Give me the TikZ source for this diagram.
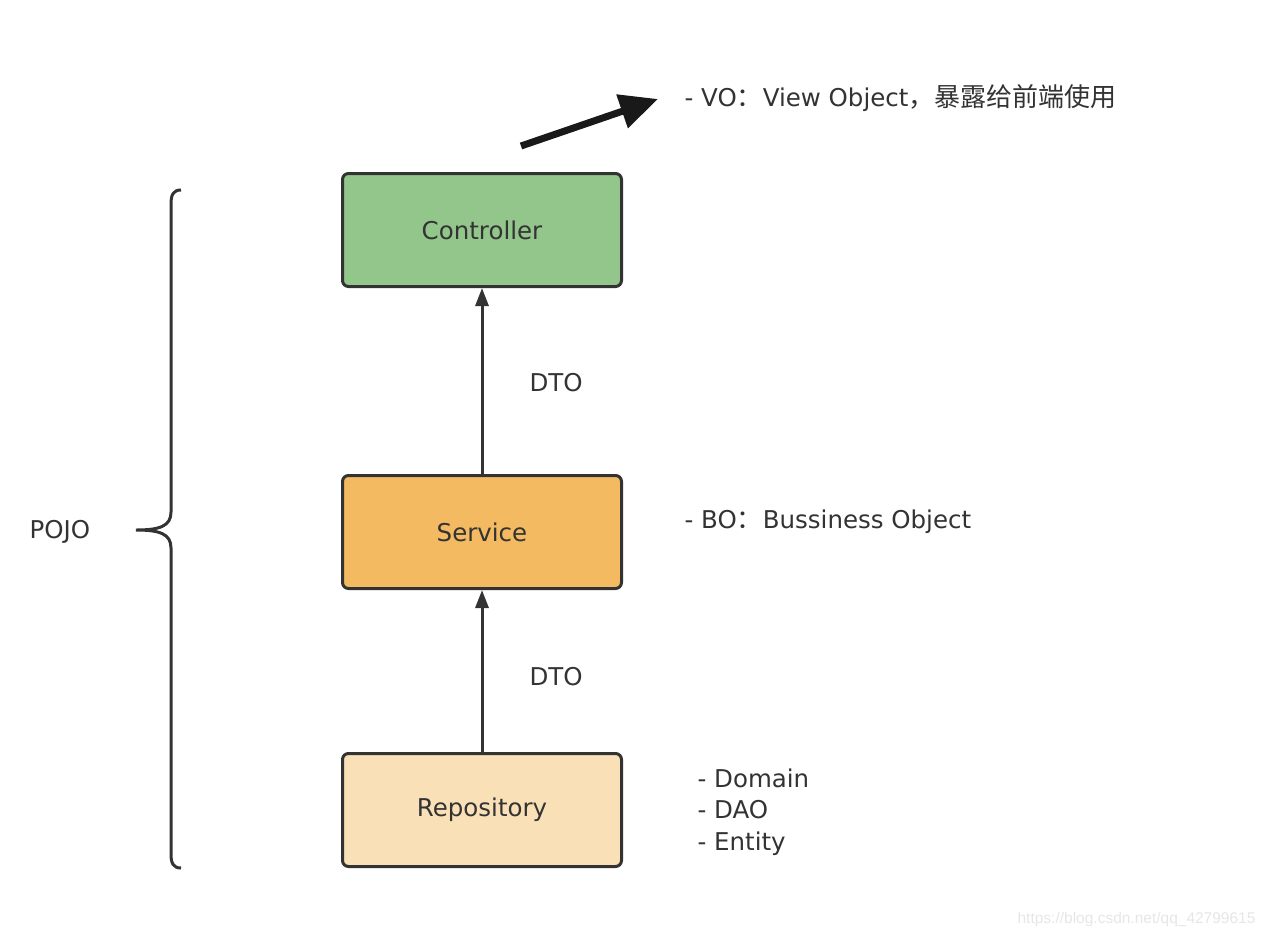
\documentclass[tikz,border=0pt]{standalone}
\usepackage{fontspec}
\setmainfont{DejaVu Sans}
\newfontfamily\cjk{Noto Sans CJK SC}
\newfontfamily\markfont{Liberation Sans}
\usetikzlibrary{positioning,arrows.meta}
\definecolor{ink}{HTML}{333333}
\definecolor{ctrlgreen}{HTML}{93C68B}
\definecolor{svcorange}{HTML}{F3BA62}
\definecolor{repobeige}{HTML}{FAE0B7}
\definecolor{markgray}{HTML}{E6E6E6}

\begin{document}
\begin{tikzpicture}[x=1pt,y=-1pt,
      layer/.style={draw=ink,line width=3pt,rounded corners=6pt,minimum width=279pt,minimum height=113pt,
        font=\fontsize{24.5}{28}\selectfont,text=ink},
      note/.style={anchor=west,font=\fontsize{24.5}{31.5}\selectfont,text=ink,align=left},
      flow/.style={draw=ink,line width=3pt,-{Triangle[length=18pt,width=13pt]}}]

    \useasboundingbox (0,0) rectangle (1268,938);

    \node[layer,fill=ctrlgreen] (ctrl) at (482,230) {Controller};
    \node[layer,fill=svcorange] (svc)  at (482,532) {Service};
    \node[layer,fill=repobeige] (repo) at (482,810) {Repository};

    \draw[flow] (svc) -- (ctrl);
    \draw[flow] (repo) -- (svc);

    \node[note] (dto1) at (526,383) {DTO};
    \node[note] (dto2) at (526,677) {DTO};

    % exposed to the front end
    \coordinate (voA) at (521,146);
    \coordinate (voB) at (658,99);
    \draw[black!90,line width=7pt,-{Triangle[length=38pt,width=34pt]}] (voA) -- (voB);
    \node[note] (vo) at (681,98) {- VO{\cjk\fontsize{26}{30}\selectfont ：}View Object{\cjk\fontsize{26}{30}\selectfont ，暴露给前端使用}};

    \node[note] (bo) at (681,522) {- BO{\cjk\fontsize{26}{30}\selectfont ：}Bussiness Object};
    \node[note] (dao) at (694,812) {- Domain\\- DAO\\- Entity};

    % brace round the three layers
    \draw[ink,line width=3pt] (181,190) .. controls (173,190) and (171,195) .. (171,204)
      -- (171,512) .. controls (171,526) and (160,530) .. (136,530)
      .. controls (160,530) and (171,534) .. (171,548)
      -- (171,854) .. controls (171,863) and (173,868) .. (181,868);
    \node[note] (pojo) at (26,532) {POJO};

    \node[anchor=east,font=\markfont\fontsize{15.5}{18}\selectfont,text=markgray] (mark) at (1259,919) {https://blog.csdn.net/qq\_42799615};
  \end{tikzpicture}
\end{document}
